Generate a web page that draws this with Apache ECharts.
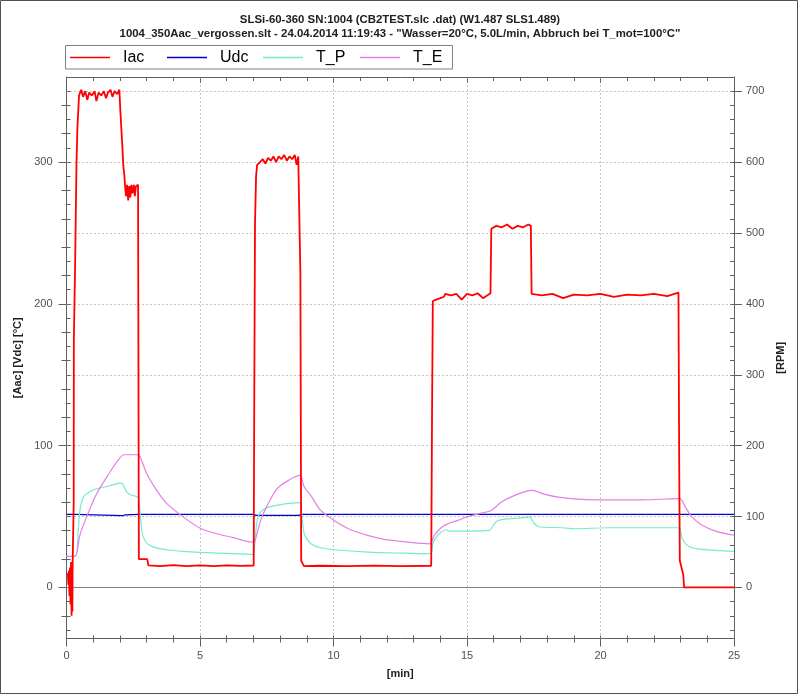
<!DOCTYPE html>
<html>
<head>
<meta charset="utf-8">
<script src="https://cdn.jsdelivr.net/npm/echarts@6/dist/echarts.min.js"></script>
<style>
html,body{margin:0;padding:0;background:#fff;}
#chart{width:800px;height:695px;}
</style>
</head>
<body>
<div id="chart"></div>
<script>
// ---- data (time in minutes) ----
const titleLines = [
  'SLSi-60-360 SN:1004 (CB2TEST.slc .dat) (W1.487 SLS1.489)',
  '1004_350Aac_vergossen.slt - 24.04.2014 11:19:43 - "Wasser=20°C, 5.0L/min, Abbruch bei T_mot=100°C"'
];
const seriesNames = ['Iac', 'Udc', 'T_P', 'T_E'];
const xTickLabels = [0, 5, 10, 15, 20, 25];
const leftTickLabels = [0, 100, 200, 300];
const rightTickLabels = [0, 100, 200, 300, 400, 500, 600, 700];

const iacTime = [0.05,0.07,0.09,0.11,0.13,0.15,0.17,0.19,0.21,0.22,0.23,0.26,0.27,0.275,0.32,0.375,0.41,0.47,
  0.55,0.62,0.7,0.78,0.85,0.95,1.05,1.12,1.2,1.3,1.4,1.48,1.55,1.65,1.72,1.8,1.9,1.98,
  2.02,2.08,2.13,2.17,2.19,2.23,2.27,2.31,2.35,2.39,2.43,2.47,2.52,2.56,2.6,2.65,2.68,
  2.71,2.78,2.9,3.02,3.07,3.5,4.0,4.5,5.0,5.5,6.0,6.5,7.01,
  7.03,7.06,7.1,7.14,7.25,7.35,7.45,7.55,7.65,7.75,7.85,7.95,8.05,8.15,8.25,8.35,8.45,8.55,8.62,8.68,8.74,
  8.76,8.79,8.84,8.9,9.5,10.5,11.5,12.5,13.66,
  13.69,13.72,13.85,14.0,14.14,14.18,14.4,14.6,14.8,15.0,15.2,15.4,15.6,15.88,
  15.91,16.1,16.3,16.5,16.7,16.9,17.1,17.3,17.39,
  17.42,17.8,18.2,18.6,19.0,19.5,20.0,20.5,21.0,21.5,22.0,22.5,22.92,
  22.95,22.97,23.04,23.1,23.13,25];
const iacValue = [10,2,12,-6,14,-12,18,-20,8,-17,16,17,60,175,224,300,325,347,
  351,346,350,344,349,347,350,343,349,347,350,345,349,351,346,350,348,351,
  335,315,297,290,284,276,284,273,283,275,284,278,284,276,283,284,284,
  20,21,20,20,15.5,15,15.8,15,15.6,15,15.6,15.2,15.5,
  120,256,290,298,300,302,299,303,301,304,300,304,302,305,301,304,302,305,298,304,305,
  221,19,17,15,15.3,15,15.4,15,15.3,
  120,202,203,204,205,207,206,207,203,207,206,207.5,204,207.5,
  253,255,254,256,253,255,254,256,255,
  207,206,207,204,206.5,206,207,205,206.5,206,207,205.5,208,
  80,19,18,9,0,0];

const udcTime = [0,0.35,0.4,2.1,2.2,2.7,7.0,7.1,8.7,8.8,25];
const udcValue = [51.5,51.5,50.6,50.6,51.2,51.5,51.5,50.8,50.8,51.5,51.5];

const tpTime = [0,0.33,0.44,0.5,0.63,0.88,1.13,1.63,2.0,2.1,2.26,2.44,2.66,2.73,2.82,2.88,3.01,3.26,3.76,4.38,5.01,6.26,6.98,
  7.04,7.14,7.27,7.52,8.02,8.73,8.76,8.83,8.9,8.96,9.15,9.52,10.02,11.28,12.53,13.63,
  13.72,13.85,14.03,14.22,14.35,15.04,15.85,15.98,16.17,16.92,17.35,17.48,17.67,18.55,19.05,20.3,22.92,
  23.06,23.31,23.81,25];
const tpValue = [21.9,22,40,54,63.7,67.7,69.6,71.7,73.6,73,67.3,65,63.7,58,40,35.5,31.3,28.4,26.6,25.4,24.7,23.8,23.3,
  28.4,47.3,53.2,56.3,58.4,59.8,59.5,48,38,35.5,30.8,28,26.6,24.9,24.2,23.8,
  30.8,35.5,39,40.7,39.7,39.7,40.2,43.8,47.3,48.9,49.6,46.1,43,42.1,41.4,42.1,42.1,
  34.4,28.9,26.8,25.4];

const teTime = [0,0.32,0.5,0.75,1.13,1.63,1.88,2.16,2.69,2.76,3.01,3.38,3.76,4.38,5.01,5.64,6.26,6.95,
  7.05,7.27,7.52,7.89,8.27,8.74,8.8,8.9,9.15,9.52,10.02,10.65,11.28,11.9,12.53,13.6,
  13.78,14.03,14.29,14.66,15.04,15.54,15.91,16.29,16.79,17.42,17.92,18.42,19.3,20.3,21.55,22.96,
  23.18,23.43,23.81,24.31,25];
const teValue = [21.9,22,36.7,49.6,66.1,81.4,88.4,93.6,93.6,92,80.2,68.5,59.1,49.6,41.8,37.9,35.1,32,
  32.5,47.3,57.9,69.7,75,79,78,71,64.9,54.3,47.3,40.7,36.7,33.9,32.5,30.8,
  36.7,42.1,45,47.3,50.1,52.4,54.3,60.2,64.9,68.5,65.6,63.7,62.1,61.8,61.8,62.6,
  56.7,49.6,43.8,39.7,36.8];

// ---- helpers ----
const pairs = (t, v) => t.map((x, i) => [x, v[i]]);
const range = (a, b, s) => { const r = []; for (let v = a; v <= b + 1e-9; v += s) r.push(v); return r; };

const FONT = 'Liberation Sans, Arial, sans-serif';
const AXIS_COLOR = '#606060';
const LABEL_COLOR = '#505050';
const LMIN = -36, LMAX = 360;
const COLORS = {Iac: '#ff0000', Udc: '#0000c8', T_P: '#72eccf', T_E: '#e57fe5'};
const legendLeft = [70, 167, 263, 360];

const chart = echarts.init(document.getElementById('chart'), null, {renderer: 'canvas'});

const hiddenY = (pos, min, max, ticks, len, inside) => ({
  type: 'value', position: pos, min: min, max: max,
  axisLine: {show: false}, axisLabel: {show: false}, splitLine: {show: false},
  axisTick: {show: true, inside: inside, length: len, customValues: ticks, lineStyle: {color: AXIS_COLOR}}
});

const legends = seriesNames.map((n, i) => ({
  data: [{name: n, icon: 'rect', itemStyle: {color: COLORS[n], borderWidth: 0, opacity: 1}}],
  left: legendLeft[i], top: 49.5,
  itemWidth: 40, itemHeight: 1.5, padding: 0,
  selectedMode: false,
  itemStyle: {color: COLORS[n], borderWidth: 0},
  lineStyle: {color: COLORS[n], width: 1.5},
  textStyle: {fontFamily: FONT, fontSize: 16, color: '#000', padding: [0, 0, 0, 8]}
}));

const option = {
  animation: false,
  backgroundColor: '#ffffff',
  title: {
    text: titleLines.join('\n'),
    left: 'center', top: 8,
    textStyle: {fontFamily: FONT, fontSize: 11.4, fontWeight: 'bold', color: '#202020', lineHeight: 14}
  },
  legend: legends,
  grid: {left: 66.5, right: 66, top: 77, bottom: 56.5, containLabel: false},
  xAxis: [
    {
      type: 'value', position: 'bottom', min: 0, max: 25, interval: 5,
      axisLine: {show: true, onZero: false, lineStyle: {color: AXIS_COLOR}},
      axisTick: {show: true, length: 8, lineStyle: {color: AXIS_COLOR}},
      minorTick: {show: true, splitNumber: 5, length: 4, lineStyle: {color: AXIS_COLOR}},
      axisLabel: {show: true, margin: 12, color: LABEL_COLOR, fontFamily: FONT, fontSize: 11,
        customValues: xTickLabels},
      splitLine: {show: false},
      name: '[min]', nameLocation: 'middle', nameGap: 30,
      nameTextStyle: {fontFamily: FONT, fontSize: 11, fontWeight: 'bold', color: '#202020'}
    },
    {
      type: 'value', position: 'bottom', min: 0, max: 25, interval: 1,
      axisLine: {show: false, onZero: false}, axisLabel: {show: false}, splitLine: {show: false},
      axisTick: {show: true, inside: true, length: 3, lineStyle: {color: AXIS_COLOR}}
    },
    {
      type: 'value', position: 'top', min: 0, max: 25, interval: 5,
      axisLine: {show: true, onZero: false, lineStyle: {color: AXIS_COLOR}},
      axisLabel: {show: false}, splitLine: {show: false},
      axisTick: {show: true, inside: true, length: 6, lineStyle: {color: AXIS_COLOR}},
      minorTick: {show: true, splitNumber: 5, length: 4, lineStyle: {color: AXIS_COLOR}}
    }
  ],
  yAxis: [
    {
      type: 'value', position: 'left', min: LMIN, max: LMAX,
      axisLine: {show: true, onZero: false, lineStyle: {color: AXIS_COLOR}},
      axisTick: {show: true, length: 8, customValues: leftTickLabels, lineStyle: {color: AXIS_COLOR}},
      axisLabel: {show: true, margin: 14, color: LABEL_COLOR, fontFamily: FONT, fontSize: 11, customValues: leftTickLabels},
      splitLine: {show: false},
      name: '[Aac] [Vdc] [°C]', nameLocation: 'middle', nameGap: 32, nameRotate: 90,
      nameTextStyle: {fontFamily: FONT, fontSize: 11, fontWeight: 'bold', color: '#202020'}
    },
    {
      type: 'value', position: 'right', min: LMIN * 2, max: LMAX * 2,
      axisLine: {show: true, onZero: false, lineStyle: {color: AXIS_COLOR}},
      axisTick: {show: true, length: 8, customValues: rightTickLabels, lineStyle: {color: AXIS_COLOR}},
      axisLabel: {show: true, margin: 12, color: LABEL_COLOR, fontFamily: FONT, fontSize: 11, customValues: rightTickLabels},
      splitLine: {show: false},
      name: '[RPM]', nameLocation: 'middle', nameGap: 39, nameRotate: 90,
      nameTextStyle: {fontFamily: FONT, fontSize: 11, fontWeight: 'bold', color: '#202020'}
    },
    hiddenY('left', LMIN, LMAX, range(-20, 340, 20), 5, false),
    hiddenY('left', LMIN, LMAX, range(-20, 340, 20), 3, true),
    hiddenY('right', LMIN * 2, LMAX * 2, range(-60, 700, 20), 4, false),
    hiddenY('right', LMIN * 2, LMAX * 2, range(-60, 700, 20), 4, true)
  ],
  graphic: [
    {type: 'rect', shape: {x: 0.5, y: 0.5, width: 797, height: 693}, style: {fill: 'none', stroke: '#505050', lineWidth: 1}, silent: true, z: 100},
    {type: 'rect', shape: {x: 65.5, y: 45.5, width: 387, height: 23.5}, style: {fill: 'none', stroke: '#808080', lineWidth: 1}, silent: true, z: 100}
  ],
  series: [
    {
      name: 'grid', type: 'line', data: [], xAxisIndex: 0, yAxisIndex: 0, z: 1, silent: true,
      markLine: {
        silent: true, symbol: ['none', 'none'], label: {show: false}, z: 1,
        lineStyle: {color: '#8a8a8a', type: [1, 3], width: 1},
        emphasis: {disabled: true},
        data: [
          {yAxis: 50}, {yAxis: 100}, {yAxis: 150}, {yAxis: 200}, {yAxis: 250}, {yAxis: 300}, {yAxis: 350},
          {xAxis: 5}, {xAxis: 10}, {xAxis: 15}, {xAxis: 20},
          {yAxis: 0, lineStyle: {type: 'solid', color: '#808080'}}
        ]
      }
    },
    {
      name: 'Udc', type: 'line', data: pairs(udcTime, udcValue), xAxisIndex: 0, yAxisIndex: 0,
      symbol: 'none', lineStyle: {color: COLORS.Udc, width: 1.2}, itemStyle: {color: COLORS.Udc}, z: 3
    },
    {
      name: 'T_P', type: 'line', data: pairs(tpTime, tpValue), xAxisIndex: 0, yAxisIndex: 0,
      symbol: 'none', smooth: 0.3, lineStyle: {color: COLORS.T_P, width: 1.2}, itemStyle: {color: COLORS.T_P}, z: 3
    },
    {
      name: 'T_E', type: 'line', data: pairs(teTime, teValue), xAxisIndex: 0, yAxisIndex: 0,
      symbol: 'none', smooth: 0.3, lineStyle: {color: COLORS.T_E, width: 1.2}, itemStyle: {color: COLORS.T_E}, z: 3
    },
    {
      name: 'Iac', type: 'line', data: pairs(iacTime, iacValue), xAxisIndex: 0, yAxisIndex: 0,
      symbol: 'none', lineStyle: {color: COLORS.Iac, width: 1.8}, itemStyle: {color: COLORS.Iac}, z: 4
    }
  ]
};
chart.setOption(option);
</script>
</body>
</html>
